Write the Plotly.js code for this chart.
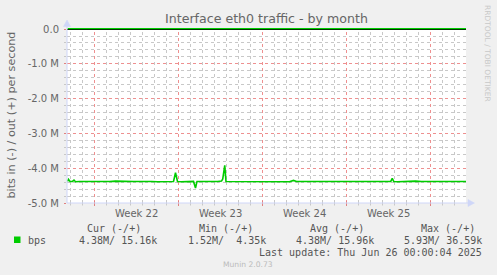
<!DOCTYPE html>
<html>
<head>
<meta charset="utf-8">
<script src="https://cdn.plot.ly/plotly-3.0.1.min.js"></script>
<style>
  html, body { margin: 0; padding: 0; background: #F0F0F0; }
  #chart { width: 497px; height: 275px; }
</style>
</head>
<body>
<div id="chart"></div>
<script>
// ---- data ----
const times = [
  "2025-05-23 18:00","2025-05-23 20:00","2025-05-23 23:00","2025-05-24 04:00","2025-05-24 07:00",
  "2025-05-24 10:00","2025-05-24 18:00","2025-05-25 06:00","2025-05-25 18:00","2025-05-26 06:00",
  "2025-05-26 18:00","2025-05-27 06:00","2025-05-27 18:00","2025-05-28 06:00","2025-05-28 18:00",
  "2025-05-29 06:00","2025-05-29 18:00","2025-05-30 06:00","2025-05-30 18:00","2025-05-31 06:00",
  "2025-05-31 18:00","2025-06-01 06:00","2025-06-01 14:00","2025-06-01 18:00","2025-06-01 22:00",
  "2025-06-02 06:00","2025-06-02 18:00","2025-06-03 06:00","2025-06-03 10:00","2025-06-03 13:00",
  "2025-06-03 22:00","2025-06-04 08:00","2025-06-04 18:00","2025-06-05 06:00","2025-06-05 14:00",
  "2025-06-05 16:30","2025-06-05 20:30","2025-06-05 23:00","2025-06-06 08:00","2025-06-06 18:00",
  "2025-06-07 06:00","2025-06-07 18:00","2025-06-08 06:00","2025-06-08 18:00","2025-06-09 06:00",
  "2025-06-09 18:00","2025-06-10 06:00","2025-06-10 18:00","2025-06-11 06:00","2025-06-11 14:00",
  "2025-06-11 20:00","2025-06-12 06:00","2025-06-12 18:00","2025-06-13 06:00","2025-06-13 18:00",
  "2025-06-14 06:00","2025-06-14 18:00","2025-06-15 06:00","2025-06-15 18:00","2025-06-16 06:00",
  "2025-06-16 18:00","2025-06-17 06:00","2025-06-17 18:00","2025-06-18 06:00","2025-06-18 18:00",
  "2025-06-19 06:00","2025-06-19 16:30","2025-06-19 19:30","2025-06-19 22:30","2025-06-20 06:00",
  "2025-06-20 18:00","2025-06-21 06:00","2025-06-21 18:00","2025-06-22 06:00","2025-06-22 18:00",
  "2025-06-23 06:00","2025-06-23 18:00","2025-06-24 06:00","2025-06-24 18:00","2025-06-25 06:00",
  "2025-06-25 18:00","2025-06-26 00:00"
];
// incoming traffic, Mbit/s (drawn negative)
const inMbps = [
  -4.38,-4.32,-4.38,-4.38,-4.34,
  -4.39,-4.38,-4.39,-4.38,-4.38,
  -4.39,-4.38,-4.37,-4.38,-4.39,
  -4.38,-4.38,-4.37,-4.38,-4.39,
  -4.38,-4.38,-4.38,-4.13,-4.38,
  -4.39,-4.38,-4.38,-4.57,-4.38,
  -4.38,-4.39,-4.38,-4.38,-4.37,
  -4.31,-3.92,-4.38,-4.38,-4.39,
  -4.38,-4.38,-4.39,-4.38,-4.38,
  -4.37,-4.38,-4.38,-4.39,-4.35,
  -4.38,-4.38,-4.39,-4.38,-4.38,
  -4.37,-4.38,-4.38,-4.39,-4.38,
  -4.38,-4.38,-4.39,-4.38,-4.38,
  -4.38,-4.38,-4.29,-4.38,-4.39,
  -4.38,-4.38,-4.37,-4.38,-4.38,
  -4.39,-4.38,-4.38,-4.38,-4.39,
  -4.38,-4.38
];
// outgoing traffic, kbit/s
const outKbps = [
  15.2,16.1,15.5,14.8,16.0,
  15.9,15.4,16.2,15.7,15.3,
  16.0,15.8,15.1,16.4,15.9,
  15.6,16.1,15.2,15.8,16.3,
  15.5,15.9,16.0,36.6,15.7,
  15.4,16.2,15.8,15.1,16.0,
  15.6,15.9,16.3,15.5,15.8,
  17.2,30.1,15.9,16.1,15.4,
  15.8,16.2,15.7,15.3,16.0,
  15.9,15.6,16.1,15.8,16.4,
  15.5,15.9,16.2,15.7,15.4,
  16.0,15.8,15.6,16.1,15.9,
  15.3,16.2,15.8,15.5,16.0,
  15.7,15.9,22.4,15.6,16.1,
  15.8,15.4,16.0,15.9,15.5,
  16.2,15.8,15.6,15.9,16.1,
  15.3,15.16
];
const yTickVals = [0, -1e6, -2e6, -3e6, -4e6, -5e6];
const yTickText = ["0.0", "-1.0 M", "-2.0 M", "-3.0 M", "-4.0 M", "-5.0 M"];
const weekStarts = ["2025-05-26", "2025-06-02", "2025-06-09", "2025-06-16", "2025-06-23"];
const weekCenters = ["2025-05-29 12:00", "2025-06-05 12:00", "2025-06-12 12:00", "2025-06-19 12:00"];
const weekLabels = ["Week 22", "Week 23", "Week 24", "Week 25"];
const seriesName = "bps";
const statHeaders = ["Cur (-/+)", "Min (-/+)", "Avg (-/+)", "Max (-/+)"];
const statValues = ["4.38M/ 15.16k", "1.52M/  4.35k", "4.38M/ 15.96k", "5.93M/ 36.59k"];
const lastUpdate = "Last update: Thu Jun 26 00:00:04 2025";
const titleText = "Interface eth0 traffic - by month";
const yTitle = "bits in (-) / out (+) per second";

// ---- layout geometry ----
const W = 497, H = 275;
const L = 67, R = 466, T = 28, B = 203;
const xp = px => (px - L) / (R - L);
const yp = py => (B - py) / (B - T);
const X_RANGE = ["2025-05-23 17:00", "2025-06-25 23:00"];
const Y_RANGE = [-5e6, 0.03e6];

const GREEN = "#00CC00";
const FONTC = "#666666";
const AXISC = "#CFD6F8";
const MGRID = "#EE9090";
const GRID = "#C8C8C8";

// minor horizontal grid every 0.2 M, skipping the major (1 M) positions
const yMinorVals = [];
for (let k = 1; k < 25; k++) if (k % 5 !== 0) yMinorVals.push(-k * 2e5);

// daily vertical grid positions (midnights), skipping week starts
const pad2 = n => String(n).padStart(2, "0");
const fmtDay = ms => { const d = new Date(ms); return `${d.getUTCFullYear()}-${pad2(d.getUTCMonth() + 1)}-${pad2(d.getUTCDate())}`; };
const dayGrid = [];
for (let ms = Date.UTC(2025, 4, 24); ms <= Date.UTC(2025, 5, 25); ms += 86400000) {
  const s = fmtDay(ms);
  if (!weekStarts.includes(s)) dayGrid.push(s);
}

const traces = [
  { x: times, y: inMbps.map(v => v * 1e6), type: "scatter", mode: "lines",
    xaxis: "x", yaxis: "y", line: { color: GREEN, width: 1.6 }, hoverinfo: "skip" },
  { x: times, y: outKbps.map(v => v * 1e3), type: "scatter", mode: "lines",
    xaxis: "x", yaxis: "y", line: { color: GREEN, width: 1.6 }, hoverinfo: "skip" },
  // carrier for the major horizontal grid axis (no visible marks)
  { x: [], y: [], type: "scatter", mode: "lines", xaxis: "x", yaxis: "y2", hoverinfo: "skip" }
];

const annotations = [];
weekCenters.forEach((c, i) => annotations.push({
  xref: "x", yref: "paper", x: c, y: yp(213), text: weekLabels[i], showarrow: false,
  xanchor: "center", yanchor: "middle", font: { family: "DejaVu Sans", size: 10, color: FONTC }
}));
const headRight = [142, 254, 365, 476];
const valRight = [158, 267, 375, 483];
statHeaders.forEach((h, i) => annotations.push({
  xref: "paper", yref: "paper", x: xp(headRight[i] + 1), y: yp(228), text: h.replace(/ /g, "&nbsp;"),
  showarrow: false, xanchor: "right", yanchor: "middle",
  font: { family: "DejaVu Sans Mono", size: 10, color: "#555555" }
}));
statValues.forEach((v, i) => annotations.push({
  xref: "paper", yref: "paper", x: xp(valRight[i] + 1), y: yp(240), text: v.replace(/ /g, "&nbsp;"),
  showarrow: false, xanchor: "right", yanchor: "middle",
  font: { family: "DejaVu Sans Mono", size: 10, color: "#555555" }
}));
annotations.push({
  xref: "paper", yref: "paper", x: xp(26), y: yp(240), text: seriesName, showarrow: false,
  xanchor: "left", yanchor: "middle", font: { family: "DejaVu Sans Mono", size: 10, color: "#555555" }
});
annotations.push({
  xref: "paper", yref: "paper", x: xp(484), y: yp(252), text: lastUpdate.replace(/ /g, "&nbsp;"),
  showarrow: false, xanchor: "right", yanchor: "middle",
  font: { family: "DejaVu Sans Mono", size: 10, color: "#555555" }
});
annotations.push({
  xref: "paper", yref: "paper", x: xp(248), y: yp(264.5), text: "Munin 2.0.73", showarrow: false,
  xanchor: "center", yanchor: "middle", font: { family: "DejaVu Sans", size: 7.6, color: "#BBBBBB" }
});
annotations.push({
  xref: "paper", yref: "paper", x: xp(488), y: yp(53), text: "RRDTOOL / TOBI OETIKER", showarrow: false,
  textangle: 90, xanchor: "center", yanchor: "middle",
  font: { family: "DejaVu Sans", size: 7.5, color: "#C8C8C8" }
});
annotations.push({
  xref: "paper", yref: "paper", x: xp(11), y: yp(115.5), text: yTitle, showarrow: false,
  textangle: -90, xanchor: "center", yanchor: "middle",
  font: { family: "DejaVu Sans", size: 11.2, color: FONTC }
});

const shapes = [];
// vertical grid lines and their small ticks below the axis
dayGrid.forEach(d => {
  shapes.push({ type: "line", layer: "below", xref: "x", yref: "paper", x0: d, x1: d, y0: 0, y1: 1,
                line: { color: GRID, width: 1, dash: "dot" } });
  shapes.push({ type: "line", xref: "x", yref: "paper", x0: d, x1: d, y0: yp(203), y1: yp(205.5),
                line: { color: "#C8C8C8", width: 1 } });
});
weekStarts.forEach(d => {
  shapes.push({ type: "line", layer: "below", xref: "x", yref: "paper", x0: d, x1: d, y0: 0, y1: 1,
                line: { color: MGRID, width: 1, dash: "dot" } });
  shapes.push({ type: "line", xref: "x", yref: "paper", x0: d, x1: d, y0: yp(201), y1: yp(206),
                line: { color: "#E08080", width: 1 } });
});
shapes.push(
  // y axis line with arrow
  { type: "line", xref: "paper", yref: "paper", x0: xp(67), x1: xp(67), y0: yp(203), y1: yp(24),
    line: { color: AXISC, width: 1 } },
  { type: "path", xref: "paper", yref: "paper",
    path: `M ${xp(63.5)},${yp(26.5)} L ${xp(67)},${yp(20)} L ${xp(70.5)},${yp(26.5)} Z`,
    fillcolor: AXISC, line: { color: AXISC, width: 0.5 } },
  // x axis line with arrow
  { type: "line", xref: "paper", yref: "paper", x0: xp(67), x1: xp(470), y0: yp(203), y1: yp(203),
    line: { color: AXISC, width: 1 } },
  { type: "path", xref: "paper", yref: "paper",
    path: `M ${xp(468)},${yp(199.5)} L ${xp(474.5)},${yp(203)} L ${xp(468)},${yp(206.5)} Z`,
    fillcolor: AXISC, line: { color: AXISC, width: 0.5 } },
  // legend colour square
  { type: "rect", xref: "paper", yref: "paper", x0: xp(14), x1: xp(20.5), y0: yp(243), y1: yp(236.5),
    fillcolor: GREEN, line: { width: 0 } }
);

const layout = {
  width: W, height: H,
  margin: { l: L, r: W - R, t: T, b: H - B, pad: 0 },
  paper_bgcolor: "#F0F0F0", plot_bgcolor: "#FFFFFF",
  showlegend: false, hovermode: false,
  font: { family: "DejaVu Sans", color: FONTC },
  title: { text: titleText, x: 0.5, xref: "paper", xanchor: "center", y: 1 - 18.5 / H, yanchor: "middle",
           font: { family: "DejaVu Sans", size: 12.6, color: FONTC } },
  xaxis: {
    type: "date", range: X_RANGE, showgrid: false, showticklabels: false, ticks: "",
    showline: false, zeroline: false, fixedrange: true
  },
  yaxis: {
    range: Y_RANGE,
    tickmode: "array", tickvals: yTickVals, ticktext: yTickText,
    tickfont: { family: "DejaVu Sans", size: 10, color: FONTC },
    ticks: "outside", ticklen: 2, tickcolor: "#E08080", ticklabelstandoff: 3,
    showgrid: false,
    minor: { tickmode: "array", tickvals: yMinorVals, showgrid: true,
             gridcolor: GRID, griddash: "dot", gridwidth: 1,
             ticks: "outside", ticklen: 2, tickcolor: "#C8C8C8" },
    zeroline: true, zerolinecolor: "#000000", zerolinewidth: 1,
    showline: false, fixedrange: true
  },
  // major horizontal grid (every 1 M)
  yaxis2: {
    range: Y_RANGE, overlaying: "y", side: "left", anchor: "x",
    tickmode: "array", tickvals: yTickVals.slice(1), showticklabels: false, ticks: "",
    showgrid: true, gridcolor: MGRID, griddash: "dot", gridwidth: 1,
    zeroline: false, showline: false, fixedrange: true
  },
  annotations: annotations,
  shapes: shapes
};

Plotly.newPlot("chart", traces, layout, { staticPlot: true, displayModeBar: false });
</script>
</body>
</html>
